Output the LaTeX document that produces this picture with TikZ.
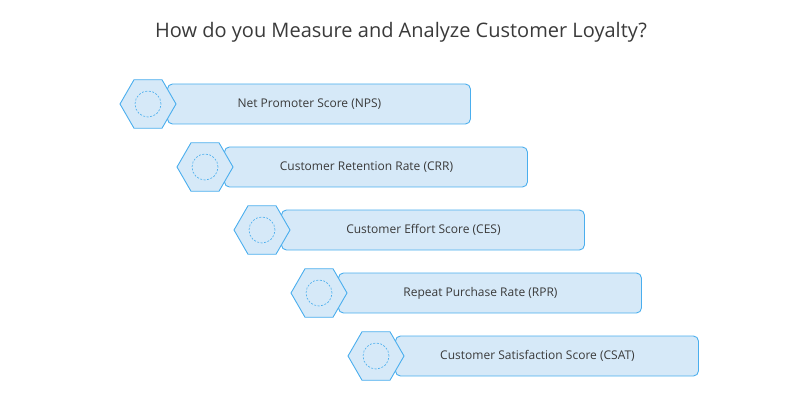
\documentclass[tikz,border=0pt]{standalone}
\usepackage{fontspec}
\setmainfont{Open Sans}
\usetikzlibrary{shapes.geometric, positioning, calc}
\definecolor{barfill}{HTML}{D6E9F8}
\definecolor{barline}{HTML}{4AAEEE}
\definecolor{txt}{HTML}{3A3A3A}
\begin{document}
\begin{tikzpicture}[x=1pt, y=1pt,
    bar/.style={rectangle, draw=barline, fill=barfill, rounded corners=5pt, line width=0.9pt, minimum width=303pt, minimum height=40pt, anchor=west},
    hex/.style={regular polygon, regular polygon sides=6, draw=barline, fill=barfill, line width=0.9pt, minimum size=56pt, inner sep=0pt},
    dot/.style={circle, draw=barline, dashed, dash pattern=on 2pt off 1.5pt, line width=0.6pt, minimum size=26pt, inner sep=0pt},
    label/.style={font=\fontsize{12}{14}\selectfont, text=txt}
]
\useasboundingbox (0,0) rectangle (802,410);
% Title
\node[font=\fontsize{20}{24}\selectfont, text=txt] (title) at (401,378) {How do you Measure and Analyze Customer Loyalty?};
% Metric rows
\foreach \i/\txt in {0/Net Promoter Score (NPS), 1/Customer Retention Rate (CRR), 2/Customer Effort Score (CES), 3/Repeat Purchase Rate (RPR), 4/Customer Satisfaction Score (CSAT)} {
  \node[bar] (bar\i) at ({167+57*\i}, {306-63*\i}) {};
  \node[hex] (hex\i) at ({148+57*\i}, {306-63*\i}) {};
  \node[dot] (dot\i) at (hex\i.center) {};
  \node[label] (txt\i) at ($(hex\i.center)!0.5!(bar\i.east)$) {\txt};
}
\end{tikzpicture}
\end{document}
